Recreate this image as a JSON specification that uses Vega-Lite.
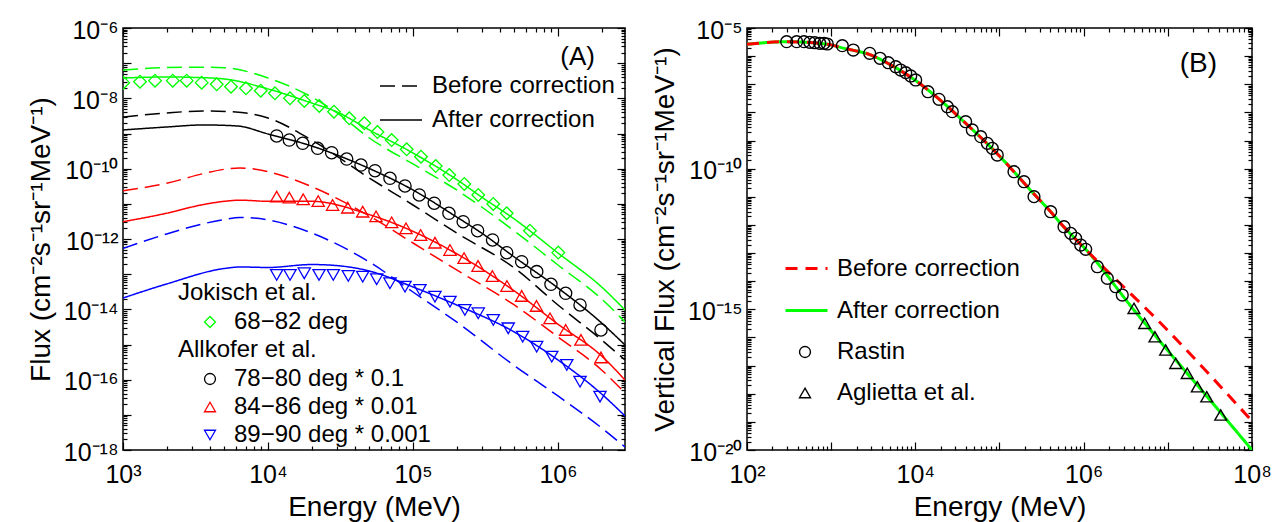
{
"$schema": "https://vega.github.io/schema/vega-lite/v6.json",
"padding": {"left": 26, "top": 17, "right": 0, "bottom": 0},
"spacing": 23,
"resolve": {"scale": {"color": "independent", "shape": "independent", "strokeDash": "independent"}},
"config": {
  "font": "Liberation Sans",
  "view": {"stroke": "black", "strokeWidth": 1.5},
  "axis": {"labelFont": "Liberation Sans", "titleFont": "Liberation Sans", "labelFontSize": 25, "titleFontSize": 28, "titleFontWeight": "normal", "labelColor": "black", "titleColor": "black", "tickColor": "black", "grid": false, "domain": false},
  "legend": {"labelFont": "Liberation Sans", "titleFont": "Liberation Sans", "labelFontSize": 24, "titleFontSize": 24, "titleFontWeight": "normal", "labelColor": "black", "titleColor": "black", "padding": 0, "labelLimit": 400},
  "title": {"font": "Liberation Sans", "fontSize": 26, "fontWeight": "normal", "color": "black"}
},
"datasets": {
  "aLines": [
    {"s":"g","t":"After correction","E":1000,"F":3.78e-8},{"s":"g","t":"After correction","E":2000,"F":4.05e-8},{"s":"g","t":"After correction","E":3000,"F":3.95e-8},{"s":"g","t":"After correction","E":5000,"F":3.55e-8},{"s":"g","t":"After correction","E":10000,"F":1.85e-8},{"s":"g","t":"After correction","E":20000,"F":7.36e-9},{"s":"g","t":"After correction","E":30000,"F":4.09e-9},{"s":"g","t":"After correction","E":50000,"F":1.26e-9},{"s":"g","t":"After correction","E":100000,"F":2.79e-10},{"s":"g","t":"After correction","E":200000,"F":4.92e-11},{"s":"g","t":"After correction","E":300000,"F":1.52e-11},{"s":"g","t":"After correction","E":500000,"F":3.71e-12},{"s":"g","t":"After correction","E":1000000,"F":4.0e-13},{"s":"g","t":"After correction","E":2000000,"F":4.33e-14},{"s":"g","t":"After correction","E":2900000,"F":9.6e-15},
    {"s":"g","t":"Before correction","E":1000,"F":6.4e-8},{"s":"g","t":"Before correction","E":2000,"F":7.53e-8},{"s":"g","t":"Before correction","E":3000,"F":7.7e-8},{"s":"g","t":"Before correction","E":5000,"F":7.4e-8},{"s":"g","t":"Before correction","E":10000,"F":3.78e-8},{"s":"g","t":"Before correction","E":20000,"F":1.09e-8},{"s":"g","t":"Before correction","E":30000,"F":3.83e-9},{"s":"g","t":"Before correction","E":50000,"F":7.45e-10},{"s":"g","t":"Before correction","E":100000,"F":1.36e-10},{"s":"g","t":"Before correction","E":200000,"F":2.48e-11},{"s":"g","t":"Before correction","E":500000,"F":1.69e-12},{"s":"g","t":"Before correction","E":1000000,"F":1.82e-13},{"s":"g","t":"Before correction","E":2000000,"F":1.97e-14},{"s":"g","t":"Before correction","E":2900000,"F":4.38e-15},
    {"s":"k","t":"After correction","E":1000,"F":1.26e-9},{"s":"k","t":"After correction","E":2000,"F":1.53e-9},{"s":"k","t":"After correction","E":3560,"F":1.75e-9},{"s":"k","t":"After correction","E":6110,"F":1.64e-9},{"s":"k","t":"After correction","E":10000,"F":9.7e-10},{"s":"k","t":"After correction","E":20000,"F":4.42e-10},{"s":"k","t":"After correction","E":50000,"F":1.01e-10},{"s":"k","t":"After correction","E":100000,"F":2.48e-11},{"s":"k","t":"After correction","E":200000,"F":4.23e-12},{"s":"k","t":"After correction","E":300000,"F":1.44e-12},{"s":"k","t":"After correction","E":500000,"F":3.08e-13},{"s":"k","t":"After correction","E":1000000,"F":4.05e-14},{"s":"k","t":"After correction","E":2000000,"F":4.09e-15},{"s":"k","t":"After correction","E":2900000,"F":9.7e-16},
    {"s":"k","t":"Before correction","E":1000,"F":2.94e-9},{"s":"k","t":"Before correction","E":2000,"F":3.83e-9},{"s":"k","t":"Before correction","E":3560,"F":4.36e-9},{"s":"k","t":"Before correction","E":6000,"F":4.1e-9},{"s":"k","t":"Before correction","E":10000,"F":2.76e-9},{"s":"k","t":"Before correction","E":20000,"F":6.53e-10},{"s":"k","t":"Before correction","E":50000,"F":5.43e-11},{"s":"k","t":"Before correction","E":100000,"F":9.27e-12},{"s":"k","t":"Before correction","E":200000,"F":1.48e-12},{"s":"k","t":"Before correction","E":500000,"F":1.5e-13},{"s":"k","t":"Before correction","E":1000000,"F":1.33e-14},{"s":"k","t":"Before correction","E":2000000,"F":1.35e-15},{"s":"k","t":"Before correction","E":2900000,"F":3.63e-16},
    {"s":"r","t":"After correction","E":1000,"F":3.1e-12},{"s":"r","t":"After correction","E":2000,"F":5.4e-12},{"s":"r","t":"After correction","E":3560,"F":9.5e-12},{"s":"r","t":"After correction","E":5000,"F":1.18e-11},{"s":"r","t":"After correction","E":6400,"F":1.27e-11},{"s":"r","t":"After correction","E":10000,"F":1.18e-11},{"s":"r","t":"After correction","E":20000,"F":1.18e-11},{"s":"r","t":"After correction","E":50000,"F":4.94e-12},{"s":"r","t":"After correction","E":100000,"F":1.65e-12},{"s":"r","t":"After correction","E":200000,"F":3.8e-13},{"s":"r","t":"After correction","E":500000,"F":3.33e-14},{"s":"r","t":"After correction","E":1000000,"F":3.79e-15},{"s":"r","t":"After correction","E":2000000,"F":4.72e-16},{"s":"r","t":"After correction","E":2900000,"F":9.8e-17},
    {"s":"r","t":"Before correction","E":1000,"F":2.37e-11},{"s":"r","t":"Before correction","E":2000,"F":3.84e-11},{"s":"r","t":"Before correction","E":3560,"F":7.2e-11},{"s":"r","t":"Before correction","E":5000,"F":9.6e-11},{"s":"r","t":"Before correction","E":6400,"F":1.05e-10},{"s":"r","t":"Before correction","E":10000,"F":8.2e-11},{"s":"r","t":"Before correction","E":20000,"F":3.08e-11},{"s":"r","t":"Before correction","E":50000,"F":4.52e-12},{"s":"r","t":"Before correction","E":100000,"F":7.7e-13},{"s":"r","t":"Before correction","E":200000,"F":1.32e-13},{"s":"r","t":"Before correction","E":500000,"F":1.33e-14},{"s":"r","t":"Before correction","E":1000000,"F":1.64e-15},{"s":"r","t":"Before correction","E":2000000,"F":1.89e-16},{"s":"r","t":"Before correction","E":2900000,"F":4.19e-17},
    {"s":"b","t":"After correction","E":1000,"F":2.1e-14},{"s":"b","t":"After correction","E":2000,"F":5.26e-14},{"s":"b","t":"After correction","E":5000,"F":1.45e-13},{"s":"b","t":"After correction","E":6400,"F":1.6e-13},{"s":"b","t":"After correction","E":10000,"F":1.55e-13},{"s":"b","t":"After correction","E":20000,"F":1.88e-13},{"s":"b","t":"After correction","E":30000,"F":1.75e-13},{"s":"b","t":"After correction","E":50000,"F":1.23e-13},{"s":"b","t":"After correction","E":100000,"F":4.33e-14},{"s":"b","t":"After correction","E":200000,"F":1.33e-14},{"s":"b","t":"After correction","E":500000,"F":2.27e-15},{"s":"b","t":"After correction","E":1000000,"F":3.63e-16},{"s":"b","t":"After correction","E":2000000,"F":3.92e-17},{"s":"b","t":"After correction","E":2900000,"F":9.29e-18},
    {"s":"b","t":"Before correction","E":1000,"F":5.37e-13},{"s":"b","t":"Before correction","E":2000,"F":1.39e-12},{"s":"b","t":"Before correction","E":3560,"F":2.7e-12},{"s":"b","t":"Before correction","E":5000,"F":3.59e-12},{"s":"b","t":"Before correction","E":6400,"F":4.1e-12},{"s":"b","t":"Before correction","E":10000,"F":3.48e-12},{"s":"b","t":"Before correction","E":20000,"F":1.48e-12},{"s":"b","t":"Before correction","E":50000,"F":2.22e-13},{"s":"b","t":"Before correction","E":100000,"F":3.11e-14},{"s":"b","t":"Before correction","E":200000,"F":4.37e-15},{"s":"b","t":"Before correction","E":500000,"F":2.5e-16},{"s":"b","t":"Before correction","E":1000000,"F":3.44e-17},{"s":"b","t":"Before correction","E":2000000,"F":4.24e-18},{"s":"b","t":"Before correction","E":2900000,"F":1.22e-18}
  ],
  "jok": [
    {"set":"68−82 deg","E":1004,"F":2.79e-8},{"set":"68−82 deg","E":1310,"F":2.97e-8},{"set":"68−82 deg","E":1663,"F":3.18e-8},{"set":"68−82 deg","E":2204,"F":3.18e-8},{"set":"68−82 deg","E":2750,"F":3.18e-8},{"set":"68−82 deg","E":3490,"F":2.79e-8},{"set":"68−82 deg","E":4430,"F":2.51e-8},{"set":"68−82 deg","E":5560,"F":2.14e-8},{"set":"68−82 deg","E":7050,"F":1.93e-8},{"set":"68−82 deg","E":8910,"F":1.65e-8},{"set":"68−82 deg","E":11170,"F":1.39e-8},{"set":"68−82 deg","E":14180,"F":1.0e-8},{"set":"68−82 deg","E":17800,"F":8.4e-9},{"set":"68−82 deg","E":22590,"F":6.05e-9},{"set":"68−82 deg","E":28530,"F":4.17e-9},{"set":"68−82 deg","E":36370,"F":2.71e-9},{"set":"68−82 deg","E":46160,"F":1.95e-9},{"set":"68−82 deg","E":56900,"F":1.1e-9},{"set":"68−82 deg","E":71300,"F":6.5e-10},{"set":"68−82 deg","E":90500,"F":3.56e-10},{"set":"68−82 deg","E":113600,"F":2.19e-10},{"set":"68−82 deg","E":143500,"F":1.19e-10},{"set":"68−82 deg","E":178000,"F":6.6e-11},{"set":"68−82 deg","E":226000,"F":3.67e-11},{"set":"68−82 deg","E":282000,"F":1.79e-11},{"set":"68−82 deg","E":358000,"F":9.9e-12},{"set":"68−82 deg","E":443000,"F":5.4e-12},{"set":"68−82 deg","E":641000,"F":1.72e-12},{"set":"68−82 deg","E":1005000,"F":4.1e-13}
  ],
  "alk": [
    {"set":"78−80 deg * 0.1","E":11480,"F":8.5e-10},{"set":"78−80 deg * 0.1","E":14030,"F":6.53e-10},{"set":"78−80 deg * 0.1","E":17350,"F":5.27e-10},{"set":"78−80 deg * 0.1","E":22000,"F":3.8e-10},{"set":"78−80 deg * 0.1","E":27500,"F":2.84e-10},{"set":"78−80 deg * 0.1","E":34900,"F":1.88e-10},{"set":"78−80 deg * 0.1","E":43800,"F":1.27e-10},{"set":"78−80 deg * 0.1","E":54700,"F":8.77e-11},{"set":"78−80 deg * 0.1","E":69400,"F":5.33e-11},{"set":"78−80 deg * 0.1","E":88100,"F":3.22e-11},{"set":"78−80 deg * 0.1","E":110500,"F":1.79e-11},{"set":"78−80 deg * 0.1","E":140200,"F":1.04e-11},{"set":"78−80 deg * 0.1","E":177000,"F":5.39e-12},{"set":"78−80 deg * 0.1","E":222000,"F":3.11e-12},{"set":"78−80 deg * 0.1","E":279000,"F":1.72e-12},{"set":"78−80 deg * 0.1","E":354000,"F":9.37e-13},{"set":"78−80 deg * 0.1","E":443000,"F":4.08e-13},{"set":"78−80 deg * 0.1","E":562000,"F":2.26e-13},{"set":"78−80 deg * 0.1","E":714000,"F":1.18e-13},{"set":"78−80 deg * 0.1","E":895000,"F":5.16e-14},{"set":"78−80 deg * 0.1","E":1130000,"F":2.86e-14},{"set":"78−80 deg * 0.1","E":1420000,"F":1.33e-14},{"set":"78−80 deg * 0.1","E":1980000,"F":2.59e-15},
    {"set":"84−86 deg * 0.01","E":11480,"F":1.6e-11},{"set":"84−86 deg * 0.01","E":14030,"F":1.5e-11},{"set":"84−86 deg * 0.01","E":17500,"F":1.35e-11},{"set":"84−86 deg * 0.01","E":22200,"F":1.2e-11},{"set":"84−86 deg * 0.01","E":27900,"F":9.27e-12},{"set":"84−86 deg * 0.01","E":35500,"F":7.76e-12},{"set":"84−86 deg * 0.01","E":45000,"F":5.98e-12},{"set":"84−86 deg * 0.01","E":55600,"F":4.43e-12},{"set":"84−86 deg * 0.01","E":71300,"F":2.99e-12},{"set":"84−86 deg * 0.01","E":89500,"F":2.02e-12},{"set":"84−86 deg * 0.01","E":113000,"F":1.3e-12},{"set":"84−86 deg * 0.01","E":141800,"F":7.85e-13},{"set":"84−86 deg * 0.01","E":180000,"F":4.87e-13},{"set":"84−86 deg * 0.01","E":225000,"F":2.88e-13},{"set":"84−86 deg * 0.01","E":281000,"F":1.71e-13},{"set":"84−86 deg * 0.01","E":353000,"F":8.87e-14},{"set":"84−86 deg * 0.01","E":445000,"F":4.61e-14},{"set":"84−86 deg * 0.01","E":562000,"F":2.4e-14},{"set":"84−86 deg * 0.01","E":711000,"F":1.25e-14},{"set":"84−86 deg * 0.01","E":881000,"F":5.57e-15},{"set":"84−86 deg * 0.01","E":1130000,"F":2.59e-15},{"set":"84−86 deg * 0.01","E":1440000,"F":1.35e-15},{"set":"84−86 deg * 0.01","E":1980000,"F":4.28e-16},
    {"set":"89−90 deg * 0.001","E":11480,"F":9.48e-14},{"set":"89−90 deg * 0.001","E":14190,"F":9.48e-14},{"set":"89−90 deg * 0.001","E":17790,"F":1.06e-13},{"set":"89−90 deg * 0.001","E":22490,"F":9.48e-14},{"set":"89−90 deg * 0.001","E":28200,"F":9.48e-14},{"set":"89−90 deg * 0.001","E":35800,"F":8.89e-14},{"set":"89−90 deg * 0.001","E":45000,"F":8.49e-14},{"set":"89−90 deg * 0.001","E":56200,"F":7.16e-14},{"set":"89−90 deg * 0.001","E":69400,"F":5.51e-14},{"set":"89−90 deg * 0.001","E":88100,"F":4.41e-14},{"set":"89−90 deg * 0.001","E":111700,"F":3.55e-14},{"set":"89−90 deg * 0.001","E":141800,"F":2.29e-14},{"set":"89−90 deg * 0.001","E":180000,"F":1.65e-14},{"set":"89−90 deg * 0.001","E":228000,"F":9.6e-15},{"set":"89−90 deg * 0.001","E":282000,"F":7.73e-15},{"set":"89−90 deg * 0.001","E":358000,"F":4.99e-15},{"set":"89−90 deg * 0.001","E":454000,"F":2.89e-15},{"set":"89−90 deg * 0.001","E":571000,"F":1.67e-15},{"set":"89−90 deg * 0.001","E":713000,"F":8.68e-16},{"set":"89−90 deg * 0.001","E":906000,"F":4.51e-16},{"set":"89−90 deg * 0.001","E":1150000,"F":2.62e-16},{"set":"89−90 deg * 0.001","E":1420000,"F":8.77e-17},{"set":"89−90 deg * 0.001","E":1950000,"F":3.29e-17}
  ],
  "bAfter": [
    {"t":"After correction","E":100,"F":2.64e-6},{"t":"After correction","E":300,"F":3.26e-6},{"t":"After correction","E":900,"F":2.64e-6},{"t":"After correction","E":1419,"F":1.9e-6},{"t":"After correction","E":2944,"F":1.1e-6},{"t":"After correction","E":5570,"F":4.21e-7},{"t":"After correction","E":10540,"F":1.23e-7},{"t":"After correction","E":21880,"F":2.1e-8},{"t":"After correction","E":37800,"F":4.67e-9},{"t":"After correction","E":94000,"F":3.4e-10},{"t":"After correction","E":148600,"F":7.8e-11},{"t":"After correction","E":256900,"F":1.26e-11},{"t":"After correction","E":369500,"F":3.99e-12},{"t":"After correction","E":583600,"F":8.43e-13},{"t":"After correction","E":1104000,"F":1.18e-13},{"t":"After correction","E":3960000,"F":9.4e-16},{"t":"After correction","E":9860000,"F":3.57e-17},{"t":"After correction","E":29400000,"F":7.8e-19},{"t":"After correction","E":100000000,"F":1e-20}
  ],
  "bBefore": [
    {"t":"Before correction","E":100,"F":2.64e-6},{"t":"Before correction","E":300,"F":3.26e-6},{"t":"Before correction","E":900,"F":2.64e-6},{"t":"Before correction","E":1419,"F":1.9e-6},{"t":"Before correction","E":2944,"F":1.1e-6},{"t":"Before correction","E":5570,"F":4.21e-7},{"t":"Before correction","E":10540,"F":1.23e-7},{"t":"Before correction","E":21880,"F":2.1e-8},{"t":"Before correction","E":37800,"F":4.67e-9},{"t":"Before correction","E":94000,"F":3.4e-10},{"t":"Before correction","E":148600,"F":7.8e-11},{"t":"Before correction","E":256900,"F":1.26e-11},{"t":"Before correction","E":369500,"F":3.99e-12},{"t":"Before correction","E":583600,"F":8.43e-13},{"t":"Before correction","E":1104000,"F":1.18e-13},{"t":"Before correction","E":9860000,"F":1.84e-16},{"t":"Before correction","E":100000000,"F":1.07e-19}
  ],
  "bPts": [
    {"set":"Rastin","E":296,"F":3.26e-6},{"set":"Rastin","E":389,"F":3.26e-6},{"set":"Rastin","E":475,"F":3.26e-6},{"set":"Rastin","E":556,"F":3.1e-6},{"set":"Rastin","E":637,"F":3.0e-6},{"set":"Rastin","E":731,"F":2.86e-6},{"set":"Rastin","E":822,"F":2.86e-6},{"set":"Rastin","E":900,"F":2.7e-6},{"set":"Rastin","E":1356,"F":2.35e-6},{"set":"Rastin","E":1832,"F":1.65e-6},{"set":"Rastin","E":2870,"F":1.26e-6},{"set":"Rastin","E":3805,"F":8.38e-7},{"set":"Rastin","E":4775,"F":5.84e-7},{"set":"Rastin","E":5850,"F":4.21e-7},{"set":"Rastin","E":6700,"F":3.21e-7},{"set":"Rastin","E":7690,"F":2.58e-7},{"set":"Rastin","E":8820,"F":1.97e-7},{"set":"Rastin","E":10100,"F":1.42e-7},{"set":"Rastin","E":14130,"F":5.43e-8},{"set":"Rastin","E":19090,"F":2.92e-8},{"set":"Rastin","E":23990,"F":1.59e-8},{"set":"Rastin","E":27480,"F":1.06e-8},{"set":"Rastin","E":39630,"F":4.67e-9},{"set":"Rastin","E":47500,"F":2.37e-9},{"set":"Rastin","E":59800,"F":1.37e-9},{"set":"Rastin","E":71700,"F":7.96e-10},{"set":"Rastin","E":82100,"F":5.29e-10},{"set":"Rastin","E":94100,"F":3.05e-10},{"set":"Rastin","E":148600,"F":7.8e-11},{"set":"Rastin","E":195400,"F":3.44e-11},{"set":"Rastin","E":256900,"F":1.01e-11},{"set":"Rastin","E":405500,"F":2.95e-12},{"set":"Rastin","E":583600,"F":8.63e-13},{"set":"Rastin","E":701000,"F":5.03e-13},{"set":"Rastin","E":803600,"F":3.34e-13},{"set":"Rastin","E":922000,"F":1.93e-13},{"set":"Rastin","E":1057000,"F":1.36e-13},{"set":"Rastin","E":1453000,"F":3.27e-14},{"set":"Rastin","E":1910000,"F":1.26e-14},{"set":"Rastin","E":2400000,"F":6.36e-15},{"set":"Rastin","E":2875000,"F":3.22e-15},
    {"set":"Aglietta et al.","E":3960000,"F":1.08e-15},{"set":"Aglietta et al.","E":5310000,"F":3.18e-16},{"set":"Aglietta et al.","E":7030000,"F":1.06e-16},{"set":"Aglietta et al.","E":9420000,"F":3.57e-17},{"set":"Aglietta et al.","E":12400000,"F":1.2e-17},{"set":"Aglietta et al.","E":17000000,"F":5.31e-18},{"set":"Aglietta et al.","E":22400000,"F":1.77e-18},{"set":"Aglietta et al.","E":29000000,"F":7.8e-19},{"set":"Aglietta et al.","E":42500000,"F":1.75e-19}
  ]
},
"hconcat": [
  {
    "width": 502, "height": 422,
    "title": {"text": "(A)", "anchor": "end", "frame": "group", "dx": -30, "dy": 56},
    "resolve": {"scale": {"color": "independent", "shape": "independent"}, "axis": {"x": "independent", "y": "independent"}},
    "layer": [
      {
        "data": {"name": "aLines"},
        "mark": {"type": "line", "clip": true, "strokeWidth": 1.5, "interpolate": "monotone"},
        "encoding": {
          "x": {"field": "E", "type": "quantitative", "scale": {"type": "log", "domain": [1000, 2900000], "nice": false},
                "axis": {"orient": "bottom", "values": [1000, 10000, 100000, 1000000], "labelExpr": "'10' + (datum.value < 1 ? '⁻' : '') + (abs(round(log(datum.value) / LN10)) >= 10 ? ['⁰','¹','²','³','⁴','⁵','⁶','⁷','⁸','⁹'][floor(abs(round(log(datum.value) / LN10)) / 10)] : '') + ['⁰','¹','²','³','⁴','⁵','⁶','⁷','⁸','⁹'][abs(round(log(datum.value) / LN10)) % 10]", "ticks": false, "tickSize": 0, "labelPadding": 12, "labelFlush": false, "labelOverlap": false, "title": "Energy (MeV)", "titlePadding": 6}},
          "y": {"field": "F", "type": "quantitative", "scale": {"type": "log", "domain": [1e-18, 1e-6], "nice": false},
                "axis": {"orient": "left", "values": [1e-18, 1e-16, 1e-14, 1e-12, 1e-10, 1e-8, 1e-6], "labelExpr": "'10' + (datum.value < 1 ? '⁻' : '') + (abs(round(log(datum.value) / LN10)) >= 10 ? ['⁰','¹','²','³','⁴','⁵','⁶','⁷','⁸','⁹'][floor(abs(round(log(datum.value) / LN10)) / 10)] : '') + ['⁰','¹','²','³','⁴','⁵','⁶','⁷','⁸','⁹'][abs(round(log(datum.value) / LN10)) % 10]", "ticks": false, "tickSize": 0, "labelPadding": 5, "labelOffset": 2, "labelFlush": false, "labelOverlap": false, "title": "Flux (cm⁻²s⁻¹sr⁻¹MeV⁻¹)", "titlePadding": 8}},
          "color": {"field": "s", "type": "nominal", "scale": {"domain": ["g", "k", "r", "b"], "range": ["#00ff00", "#000000", "#ff0000", "#0000ff"]}, "legend": null},
          "strokeDash": {"field": "t", "type": "nominal", "scale": {"domain": ["Before correction", "After correction"], "range": [[15, 7], [1, 0]]},
                "legend": {"title": null, "orient": "none", "legendX": 256, "legendY": 36, "symbolType": "stroke", "symbolStrokeColor": "black", "symbolStrokeWidth": 1.5, "symbolSize": 1764, "labelOffset": 9, "rowPadding": -11}}
        }
      },
      {
        "data": {"name": "jok"},
        "mark": {"type": "point", "clip": true, "filled": false, "size": 160, "strokeWidth": 1.3, "opacity": 1},
        "encoding": {
          "x": {"field": "E", "type": "quantitative", "scale": {"type": "log", "domain": [1000, 2900000], "nice": false},
                "axis": {"orient": "bottom", "values": [1000, 10000, 100000, 1000000], "labels": false, "ticks": true, "tickSize": 8, "offset": -8, "tickWidth": 1.2, "title": null}},
          "y": {"field": "F", "type": "quantitative", "scale": {"type": "log", "domain": [1e-18, 1e-6], "nice": false},
                "axis": {"orient": "left", "values": [1e-18, 1e-17, 1e-16, 1e-15, 1e-14, 1e-13, 1e-12, 1e-11, 1e-10, 1e-9, 1e-8, 1e-7, 1e-6], "labels": false, "ticks": true, "tickSize": 8, "offset": -8, "tickWidth": 1.2, "title": null}},
          "shape": {"field": "set", "type": "nominal", "scale": {"domain": ["68−82 deg"], "range": ["diamond"]},
                "legend": {"title": "Jokisch et al.", "orient": "none", "legendX": 55, "legendY": 253, "symbolOffset": 20, "labelOffset": 12, "titlePadding": 5, "rowPadding": 4, "symbolSize": 120, "symbolStrokeWidth": 1.3}},
          "color": {"field": "set", "type": "nominal", "scale": {"domain": ["68−82 deg"], "range": ["#00ff00"]},
                "legend": {"title": "Jokisch et al.", "orient": "none", "legendX": 55, "legendY": 253, "symbolOffset": 20, "labelOffset": 12, "titlePadding": 5, "rowPadding": 4, "symbolSize": 120, "symbolStrokeWidth": 1.3}}
        }
      },
      {
        "data": {"name": "alk"},
        "mark": {"type": "point", "clip": true, "filled": false, "size": 150, "strokeWidth": 1.3, "opacity": 1},
        "encoding": {
          "x": {"field": "E", "type": "quantitative", "scale": {"type": "log", "domain": [1000, 2900000], "nice": false},
                "axis": {"orient": "bottom", "values": [2000,3000,4000,5000,6000,7000,8000,9000,20000,30000,40000,50000,60000,70000,80000,90000,200000,300000,400000,500000,600000,700000,800000,900000,2000000], "labels": false, "ticks": true, "tickSize": 4, "offset": -4, "tickWidth": 1.2, "title": null}},
          "y": {"field": "F", "type": "quantitative", "scale": {"type": "log", "domain": [1e-18, 1e-6], "nice": false},
                "axis": {"orient": "left", "values": [2e-18,3e-18,4e-18,5e-18,6e-18,7e-18,8e-18,9e-18,2e-17,3e-17,4e-17,5e-17,6e-17,7e-17,8e-17,9e-17,2e-16,3e-16,4e-16,5e-16,6e-16,7e-16,8e-16,9e-16,2e-15,3e-15,4e-15,5e-15,6e-15,7e-15,8e-15,9e-15,2e-14,3e-14,4e-14,5e-14,6e-14,7e-14,8e-14,9e-14,2e-13,3e-13,4e-13,5e-13,6e-13,7e-13,8e-13,9e-13,2e-12,3e-12,4e-12,5e-12,6e-12,7e-12,8e-12,9e-12,2e-11,3e-11,4e-11,5e-11,6e-11,7e-11,8e-11,9e-11,2e-10,3e-10,4e-10,5e-10,6e-10,7e-10,8e-10,9e-10,2e-9,3e-9,4e-9,5e-9,6e-9,7e-9,8e-9,9e-9,2e-8,3e-8,4e-8,5e-8,6e-8,7e-8,8e-8,9e-8,2e-7,3e-7,4e-7,5e-7,6e-7,7e-7,8e-7,9e-7], "labels": false, "ticks": true, "tickSize": 4, "offset": -4, "tickWidth": 1.2, "title": null}},
          "shape": {"field": "set", "type": "nominal", "scale": {"domain": ["78−80 deg * 0.1", "84−86 deg * 0.01", "89−90 deg * 0.001"], "range": ["circle", "triangle-up", "triangle-down"]},
                "legend": {"title": "Allkofer et al.", "orient": "none", "legendX": 55, "legendY": 310, "symbolOffset": 20, "labelOffset": 12, "titlePadding": 5, "rowPadding": 4, "symbolSize": 120, "symbolStrokeWidth": 1.3}},
          "color": {"field": "set", "type": "nominal", "scale": {"domain": ["78−80 deg * 0.1", "84−86 deg * 0.01", "89−90 deg * 0.001"], "range": ["#000000", "#ff0000", "#0000ff"]},
                "legend": {"title": "Allkofer et al.", "orient": "none", "legendX": 55, "legendY": 310, "symbolOffset": 20, "labelOffset": 12, "titlePadding": 5, "rowPadding": 4, "symbolSize": 120, "symbolStrokeWidth": 1.3}}
        }
      },
      {
        "data": {"name": "jok"},
        "mark": {"type": "point", "opacity": 0},
        "encoding": {
          "x": {"field": "E", "type": "quantitative", "scale": {"type": "log", "domain": [1000, 2900000], "nice": false},
                "axis": {"orient": "top", "values": [1000, 10000, 100000, 1000000], "labels": false, "ticks": true, "tickSize": 8, "offset": -8, "tickWidth": 1.2, "title": null}},
          "y": {"field": "F", "type": "quantitative", "scale": {"type": "log", "domain": [1e-18, 1e-6], "nice": false},
                "axis": {"orient": "right", "values": [1e-18, 1e-17, 1e-16, 1e-15, 1e-14, 1e-13, 1e-12, 1e-11, 1e-10, 1e-9, 1e-8, 1e-7, 1e-6], "labels": false, "ticks": true, "tickSize": 8, "offset": -8, "tickWidth": 1.2, "title": null}}
        }
      },
      {
        "data": {"name": "jok"},
        "mark": {"type": "point", "opacity": 0},
        "encoding": {
          "x": {"field": "E", "type": "quantitative", "scale": {"type": "log", "domain": [1000, 2900000], "nice": false},
                "axis": {"orient": "top", "values": [2000,3000,4000,5000,6000,7000,8000,9000,20000,30000,40000,50000,60000,70000,80000,90000,200000,300000,400000,500000,600000,700000,800000,900000,2000000], "labels": false, "ticks": true, "tickSize": 4, "offset": -4, "tickWidth": 1.2, "title": null}},
          "y": {"field": "F", "type": "quantitative", "scale": {"type": "log", "domain": [1e-18, 1e-6], "nice": false},
                "axis": {"orient": "right", "values": [2e-18,3e-18,4e-18,5e-18,6e-18,7e-18,8e-18,9e-18,2e-17,3e-17,4e-17,5e-17,6e-17,7e-17,8e-17,9e-17,2e-16,3e-16,4e-16,5e-16,6e-16,7e-16,8e-16,9e-16,2e-15,3e-15,4e-15,5e-15,6e-15,7e-15,8e-15,9e-15,2e-14,3e-14,4e-14,5e-14,6e-14,7e-14,8e-14,9e-14,2e-13,3e-13,4e-13,5e-13,6e-13,7e-13,8e-13,9e-13,2e-12,3e-12,4e-12,5e-12,6e-12,7e-12,8e-12,9e-12,2e-11,3e-11,4e-11,5e-11,6e-11,7e-11,8e-11,9e-11,2e-10,3e-10,4e-10,5e-10,6e-10,7e-10,8e-10,9e-10,2e-9,3e-9,4e-9,5e-9,6e-9,7e-9,8e-9,9e-9,2e-8,3e-8,4e-8,5e-8,6e-8,7e-8,8e-8,9e-8,2e-7,3e-7,4e-7,5e-7,6e-7,7e-7,8e-7,9e-7], "labels": false, "ticks": true, "tickSize": 4, "offset": -4, "tickWidth": 1.2, "title": null}}
        }
      }
    ]
  },
  {
    "width": 505, "height": 422,
    "title": {"text": "(B)", "anchor": "end", "frame": "group", "dx": -35, "dy": 64, "fontSize": 28},
    "resolve": {"axis": {"x": "independent", "y": "independent"}},
    "layer": [
      {
        "data": {"name": "bAfter"},
        "mark": {"type": "line", "clip": true, "strokeWidth": 3, "interpolate": "monotone"},
        "encoding": {
          "x": {"field": "E", "type": "quantitative", "scale": {"type": "log", "domain": [100, 100000000], "nice": false},
                "axis": {"orient": "bottom", "values": [100, 10000, 1000000, 100000000], "labelExpr": "'10' + (datum.value < 1 ? '⁻' : '') + (abs(round(log(datum.value) / LN10)) >= 10 ? ['⁰','¹','²','³','⁴','⁵','⁶','⁷','⁸','⁹'][floor(abs(round(log(datum.value) / LN10)) / 10)] : '') + ['⁰','¹','²','³','⁴','⁵','⁶','⁷','⁸','⁹'][abs(round(log(datum.value) / LN10)) % 10]", "ticks": false, "tickSize": 0, "labelPadding": 12, "labelFlush": false, "labelOverlap": false, "title": "Energy (MeV)", "titlePadding": 6}},
          "y": {"field": "F", "type": "quantitative", "scale": {"type": "log", "domain": [1e-20, 1e-5], "nice": false},
                "axis": {"orient": "left", "values": [1e-20, 1e-15, 1e-10, 1e-5], "labelExpr": "'10' + (datum.value < 1 ? '⁻' : '') + (abs(round(log(datum.value) / LN10)) >= 10 ? ['⁰','¹','²','³','⁴','⁵','⁶','⁷','⁸','⁹'][floor(abs(round(log(datum.value) / LN10)) / 10)] : '') + ['⁰','¹','²','³','⁴','⁵','⁶','⁷','⁸','⁹'][abs(round(log(datum.value) / LN10)) % 10]", "ticks": false, "tickSize": 0, "labelPadding": 5, "labelOffset": 2, "labelFlush": false, "labelOverlap": false, "title": "Vertical Flux (cm⁻²s⁻¹sr⁻¹MeV⁻¹)", "titlePadding": 8}},
          "color": {"field": "t", "type": "nominal", "scale": {"domain": ["Before correction", "After correction"], "range": ["#ff0000", "#00ff00"]},
                "legend": {"title": null, "orient": "none", "legendX": 37, "legendY": 218, "symbolType": "stroke", "symbolStrokeWidth": 3, "symbolSize": 1764, "labelOffset": 8, "rowPadding": 7}},
          "strokeDash": {"field": "t", "type": "nominal", "scale": {"domain": ["Before correction", "After correction"], "range": [[12, 8], [1, 0]]},
                "legend": {"title": null, "orient": "none", "legendX": 37, "legendY": 218, "symbolType": "stroke", "symbolStrokeWidth": 3, "symbolSize": 1764, "labelOffset": 8, "rowPadding": 7}}
        }
      },
      {
        "data": {"name": "bBefore"},
        "mark": {"type": "line", "clip": true, "strokeWidth": 3, "interpolate": "monotone"},
        "encoding": {
          "x": {"field": "E", "type": "quantitative", "scale": {"type": "log", "domain": [100, 100000000], "nice": false},
                "axis": {"orient": "bottom", "values": [100, 1000, 10000, 100000, 1000000, 10000000, 100000000], "labels": false, "ticks": true, "tickSize": 8, "offset": -8, "tickWidth": 1.2, "title": null}},
          "y": {"field": "F", "type": "quantitative", "scale": {"type": "log", "domain": [1e-20, 1e-5], "nice": false},
                "axis": {"orient": "left", "values": [1e-20,1e-19,1e-18,1e-17,1e-16,1e-15,1e-14,1e-13,1e-12,1e-11,1e-10,1e-9,1e-8,1e-7,1e-6,1e-5], "labels": false, "ticks": true, "tickSize": 8, "offset": -8, "tickWidth": 1.2, "title": null}},
          "color": {"field": "t", "type": "nominal", "scale": {"domain": ["Before correction", "After correction"], "range": ["#ff0000", "#00ff00"]},
                "legend": {"title": null, "orient": "none", "legendX": 37, "legendY": 218, "symbolType": "stroke", "symbolStrokeWidth": 3, "symbolSize": 1764, "labelOffset": 8, "rowPadding": 7}},
          "strokeDash": {"field": "t", "type": "nominal", "scale": {"domain": ["Before correction", "After correction"], "range": [[12, 8], [1, 0]]},
                "legend": {"title": null, "orient": "none", "legendX": 37, "legendY": 218, "symbolType": "stroke", "symbolStrokeWidth": 3, "symbolSize": 1764, "labelOffset": 8, "rowPadding": 7}}
        }
      },
      {
        "data": {"name": "bPts"},
        "mark": {"type": "point", "clip": true, "filled": false, "size": 140, "strokeWidth": 1.4, "color": "black", "opacity": 1},
        "encoding": {
          "x": {"field": "E", "type": "quantitative", "scale": {"type": "log", "domain": [100, 100000000], "nice": false},
                "axis": {"orient": "bottom", "values": [200,300,400,500,600,700,800,900,2000,3000,4000,5000,6000,7000,8000,9000,20000,30000,40000,50000,60000,70000,80000,90000,200000,300000,400000,500000,600000,700000,800000,900000,2000000,3000000,4000000,5000000,6000000,7000000,8000000,9000000,20000000,30000000,40000000,50000000,60000000,70000000,80000000,90000000], "labels": false, "ticks": true, "tickSize": 4, "offset": -4, "tickWidth": 1.2, "title": null}},
          "y": {"field": "F", "type": "quantitative", "scale": {"type": "log", "domain": [1e-20, 1e-5], "nice": false},
                "axis": {"orient": "left", "values": [2e-20,3e-20,4e-20,5e-20,6e-20,7e-20,8e-20,9e-20,2e-19,3e-19,4e-19,5e-19,6e-19,7e-19,8e-19,9e-19,2e-18,3e-18,4e-18,5e-18,6e-18,7e-18,8e-18,9e-18,2e-17,3e-17,4e-17,5e-17,6e-17,7e-17,8e-17,9e-17,2e-16,3e-16,4e-16,5e-16,6e-16,7e-16,8e-16,9e-16,2e-15,3e-15,4e-15,5e-15,6e-15,7e-15,8e-15,9e-15,2e-14,3e-14,4e-14,5e-14,6e-14,7e-14,8e-14,9e-14,2e-13,3e-13,4e-13,5e-13,6e-13,7e-13,8e-13,9e-13,2e-12,3e-12,4e-12,5e-12,6e-12,7e-12,8e-12,9e-12,2e-11,3e-11,4e-11,5e-11,6e-11,7e-11,8e-11,9e-11,2e-10,3e-10,4e-10,5e-10,6e-10,7e-10,8e-10,9e-10,2e-9,3e-9,4e-9,5e-9,6e-9,7e-9,8e-9,9e-9,2e-8,3e-8,4e-8,5e-8,6e-8,7e-8,8e-8,9e-8,2e-7,3e-7,4e-7,5e-7,6e-7,7e-7,8e-7,9e-7,2e-6,3e-6,4e-6,5e-6,6e-6,7e-6,8e-6,9e-6], "labels": false, "ticks": true, "tickSize": 4, "offset": -4, "tickWidth": 1.2, "title": null}},
          "shape": {"field": "set", "type": "nominal", "scale": {"domain": ["Rastin", "Aglietta et al."], "range": ["circle", "triangle-up"]},
                "legend": {"title": null, "orient": "none", "legendX": 37, "legendY": 312, "symbolOffset": 9, "labelOffset": 20, "rowPadding": 17, "symbolSize": 120, "symbolStrokeWidth": 1.4, "symbolStrokeColor": "black"}}
        }
      },
      {
        "data": {"name": "bPts"},
        "mark": {"type": "point", "opacity": 0},
        "encoding": {
          "x": {"field": "E", "type": "quantitative", "scale": {"type": "log", "domain": [100, 100000000], "nice": false},
                "axis": {"orient": "top", "values": [100, 1000, 10000, 100000, 1000000, 10000000, 100000000], "labels": false, "ticks": true, "tickSize": 8, "offset": -8, "tickWidth": 1.2, "title": null}},
          "y": {"field": "F", "type": "quantitative", "scale": {"type": "log", "domain": [1e-20, 1e-5], "nice": false},
                "axis": {"orient": "right", "values": [1e-20,1e-19,1e-18,1e-17,1e-16,1e-15,1e-14,1e-13,1e-12,1e-11,1e-10,1e-9,1e-8,1e-7,1e-6,1e-5], "labels": false, "ticks": true, "tickSize": 8, "offset": -8, "tickWidth": 1.2, "title": null}}
        }
      },
      {
        "data": {"name": "bPts"},
        "mark": {"type": "point", "opacity": 0},
        "encoding": {
          "x": {"field": "E", "type": "quantitative", "scale": {"type": "log", "domain": [100, 100000000], "nice": false},
                "axis": {"orient": "top", "values": [200,300,400,500,600,700,800,900,2000,3000,4000,5000,6000,7000,8000,9000,20000,30000,40000,50000,60000,70000,80000,90000,200000,300000,400000,500000,600000,700000,800000,900000,2000000,3000000,4000000,5000000,6000000,7000000,8000000,9000000,20000000,30000000,40000000,50000000,60000000,70000000,80000000,90000000], "labels": false, "ticks": true, "tickSize": 4, "offset": -4, "tickWidth": 1.2, "title": null}},
          "y": {"field": "F", "type": "quantitative", "scale": {"type": "log", "domain": [1e-20, 1e-5], "nice": false},
                "axis": {"orient": "right", "values": [2e-20,3e-20,4e-20,5e-20,6e-20,7e-20,8e-20,9e-20,2e-19,3e-19,4e-19,5e-19,6e-19,7e-19,8e-19,9e-19,2e-18,3e-18,4e-18,5e-18,6e-18,7e-18,8e-18,9e-18,2e-17,3e-17,4e-17,5e-17,6e-17,7e-17,8e-17,9e-17,2e-16,3e-16,4e-16,5e-16,6e-16,7e-16,8e-16,9e-16,2e-15,3e-15,4e-15,5e-15,6e-15,7e-15,8e-15,9e-15,2e-14,3e-14,4e-14,5e-14,6e-14,7e-14,8e-14,9e-14,2e-13,3e-13,4e-13,5e-13,6e-13,7e-13,8e-13,9e-13,2e-12,3e-12,4e-12,5e-12,6e-12,7e-12,8e-12,9e-12,2e-11,3e-11,4e-11,5e-11,6e-11,7e-11,8e-11,9e-11,2e-10,3e-10,4e-10,5e-10,6e-10,7e-10,8e-10,9e-10,2e-9,3e-9,4e-9,5e-9,6e-9,7e-9,8e-9,9e-9,2e-8,3e-8,4e-8,5e-8,6e-8,7e-8,8e-8,9e-8,2e-7,3e-7,4e-7,5e-7,6e-7,7e-7,8e-7,9e-7,2e-6,3e-6,4e-6,5e-6,6e-6,7e-6,8e-6,9e-6], "labels": false, "ticks": true, "tickSize": 4, "offset": -4, "tickWidth": 1.2, "title": null}}
        }
      }
    ]
  }
]
}
